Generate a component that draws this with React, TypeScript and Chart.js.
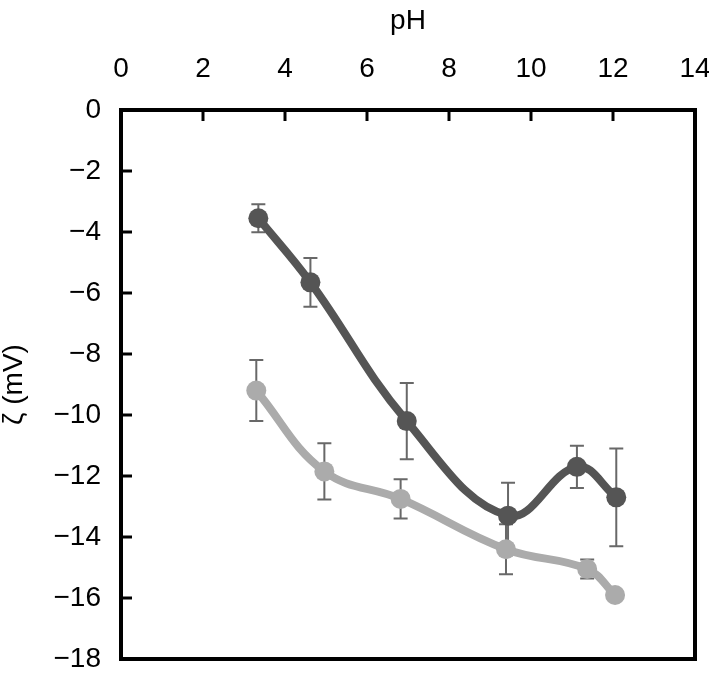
import React, { useEffect, useRef } from "react";
import { Chart, registerables } from "chart.js";

Chart.register(...registerables);

const darkX = [3.35, 4.62, 6.97, 9.44, 11.12, 12.08];
const darkY = [-3.55, -5.65, -10.2, -13.3, -11.7, -12.7];
const darkErr = [0.46, 0.8, 1.25, 1.08, 0.69, 1.6];

const greyX = [3.3, 4.96, 6.82, 9.39, 11.37, 12.05];
const greyY = [-9.2, -11.85, -12.75, -14.4, -15.05, -15.9];
const greyErr = [1.0, 0.92, 0.64, 0.82, 0.31, 0];

const xTicks = [0, 2, 4, 6, 8, 10, 12, 14];
const yTicks = [0, -2, -4, -6, -8, -10, -12, -14, -16, -18];

const FONT = "'Liberation Sans', Arial, Helvetica, sans-serif";

export default function App() {
  const ref = useRef<HTMLCanvasElement>(null);

  useEffect(() => {
    document.body.style.margin = "0";
    const canvas = ref.current;
    if (!canvas) return;

    const errorBars = {
      id: "errorBars",
      beforeDatasetsDraw(chart: any) {
        const ctx = chart.ctx;
        const xs = chart.scales.x;
        const ys = chart.scales.y;
        const sets = [
          { x: darkX, y: darkY, e: darkErr },
          { x: greyX, y: greyY, e: greyErr },
        ];
        ctx.save();
        ctx.strokeStyle = "#686868";
        ctx.lineWidth = 2;
        sets.forEach((s) => {
          s.x.forEach((xv, i) => {
            const err = s.e[i];
            if (!err) return;
            const px = xs.getPixelForValue(xv);
            const top = ys.getPixelForValue(s.y[i] + err);
            const bot = ys.getPixelForValue(s.y[i] - err);
            ctx.beginPath();
            ctx.moveTo(px, top);
            ctx.lineTo(px, bot);
            ctx.moveTo(px - 7, top);
            ctx.lineTo(px + 7, top);
            ctx.moveTo(px - 7, bot);
            ctx.lineTo(px + 7, bot);
            ctx.stroke();
          });
        });
        ctx.restore();
      },
    };

    const frame = {
      id: "frame",
      afterDraw(chart: any) {
        const ctx = chart.ctx;
        const a = chart.chartArea;
        const xs = chart.scales.x;
        const ys = chart.scales.y;
        ctx.save();
        ctx.strokeStyle = "#000";
        ctx.lineWidth = 3;
        xs.ticks.forEach((t: any) => {
          const px = xs.getPixelForValue(t.value);
          ctx.beginPath();
          ctx.moveTo(px, a.top);
          ctx.lineTo(px, a.top + 11);
          ctx.stroke();
        });
        ys.ticks.forEach((t: any) => {
          const py = ys.getPixelForValue(t.value);
          ctx.beginPath();
          ctx.moveTo(a.left, py);
          ctx.lineTo(a.left + 11, py);
          ctx.stroke();
        });
        ctx.lineWidth = 4;
        ctx.strokeRect(a.left, a.top, a.right - a.left, a.bottom - a.top);
        ctx.restore();
      },
    };

    const chart = new Chart(canvas, {
      type: "scatter",
      data: {
        datasets: [
          {
            data: darkX.map((x, i) => ({ x, y: darkY[i] })),
            showLine: true,
            borderColor: "#555555",
            backgroundColor: "#555555",
            borderWidth: 8,
            pointRadius: 10,
            pointBorderWidth: 0,
            tension: 0.4,
          },
          {
            data: greyX.map((x, i) => ({ x, y: greyY[i] })),
            showLine: true,
            borderColor: "#ababab",
            backgroundColor: "#ababab",
            borderWidth: 8,
            pointRadius: 10,
            pointBorderWidth: 0,
            tension: 0.4,
          },
        ],
      },
      options: {
        animation: false,
        responsive: false,
        maintainAspectRatio: false,
        layout: { padding: { left: 0, top: 0, right: 14, bottom: 18 } },
        plugins: { legend: { display: false }, tooltip: { enabled: false } },
        scales: {
          x: {
            type: "linear",
            position: "top",
            min: 0,
            max: 14,
            afterBuildTicks(scale: any) {
              scale.ticks = xTicks.map((v) => ({ value: v }));
            },
            afterFit(scale: any) {
              scale.height = 110;
              scale.paddingLeft = 0;
              scale.paddingRight = 0;
            },
            grid: { display: false, drawTicks: false },
            border: { display: false },
            ticks: {
              color: "#000",
              padding: 24,
              font: { family: FONT, size: 28 },
              maxRotation: 0,
            },
            title: {
              display: true,
              text: "pH",
              color: "#000",
              padding: { top: 4, bottom: 0 },
              font: { family: FONT, size: 28 },
            },
          },
          y: {
            type: "linear",
            min: -18,
            max: 0,
            afterBuildTicks(scale: any) {
              scale.ticks = yTicks.map((v) => ({ value: v }));
            },
            afterFit(scale: any) {
              scale.width = 121;
              scale.paddingTop = 0;
              scale.paddingBottom = 0;
            },
            grid: { display: false, drawTicks: false },
            border: { display: false },
            ticks: {
              color: "#000",
              padding: 20,
              font: { family: FONT, size: 28 },
              callback: (v: any) => (Number(v) < 0 ? "\u2212" + Math.abs(Number(v)) : String(v)),
            },
            title: {
              display: true,
              text: "\u03b6 (mV)",
              color: "#000",
              padding: { top: 0, bottom: 0 },
              font: { family: FONT, size: 28, lineHeight: 1 },
            },
          },
        },
      },
      plugins: [errorBars, frame],
    });

    return () => chart.destroy();
  }, []);

  return (
    <div style={{ width: 709, height: 677 }}>
      <canvas ref={ref} width={709} height={677} style={{ display: "block" }} />
    </div>
  );
}
